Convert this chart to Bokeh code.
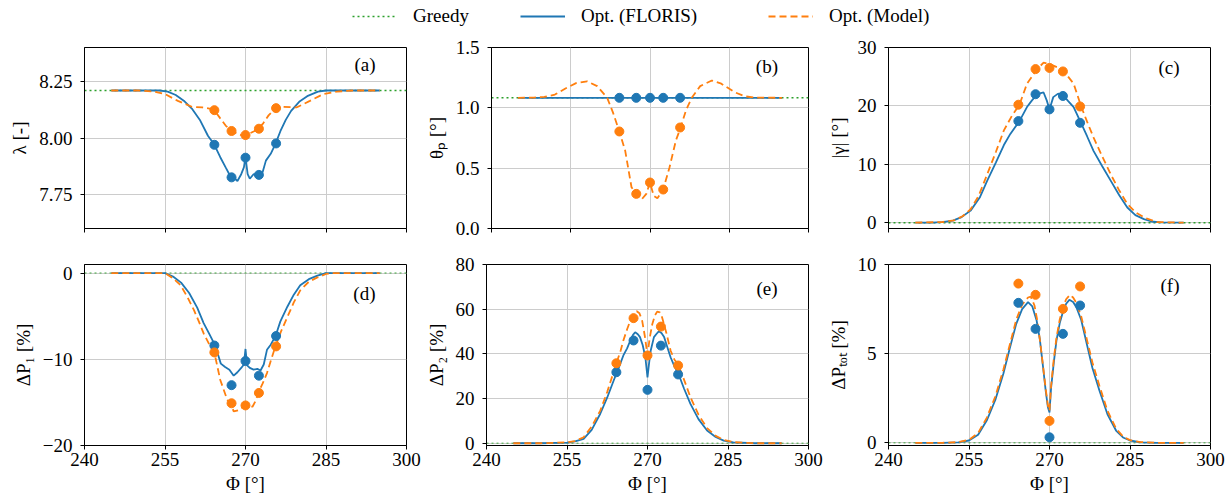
from bokeh.plotting import figure
from bokeh.models import Span, Label, Legend, LegendItem, FixedTicker, Range1d
from bokeh.layouts import column, row
from bokeh.core.properties import value
from bokeh.embed import file_html
from bokeh.resources import INLINE

# ---------------- data ----------------
PHI_TICKS = [240, 255, 270, 285, 300]
PHI_TICK_LABELS = ["240", "255", "270", "285", "300"]
PHI_PTS = [264.2, 267.4, 270.0, 272.5, 275.7]
LEGEND_LABELS = ["Greedy", "Opt. (FLORIS)", "Opt. (Model)"]
PANEL_TAGS = ["(a)", "(b)", "(c)", "(d)", "(e)", "(f)"]
Y_LABELS = ["λ [-]", "θₚ [°]", "|γ| [°]", "ΔP₁ [%]", "ΔP₂ [%]", "ΔPₜₒₜ [%]"]
X_LABEL = "Φ [°]"
GREEDY_VALUES = [8.21, 1.083, 0.0, 0.0, 0.0, 0.0]

Y_LIMITS = [(7.6, 8.4), (0.0, 1.5), (-1.0, 30.0), (-20.0, 1.0), (-1.0, 80.0), (-0.15, 10.0)]
Y_TICKS = [[7.75, 8.0, 8.25], [0.0, 0.5, 1.0, 1.5], [0, 10, 20, 30],
           [-20, -10, 0], [0, 20, 40, 60, 80], [0, 5, 10]]
Y_TICK_LABELS = [["7.75", "8.00", "8.25"], ["0.0", "0.5", "1.0", "1.5"], ["0", "10", "20", "30"],
                 ["−20", "−10", "0"], ["0", "20", "40", "60", "80"], ["0", "5", "10"]]

# (a) lambda
A_FL_PHI = [245, 250, 254, 255.5, 257, 258.5, 260, 261.5, 263, 264.2, 265.3, 266.3, 267.2, 267.8, 268.5,
            269.2, 269.7, 270, 270.4, 270.8, 271.5, 272.4, 273.2, 273.8, 274.7, 275.6, 276.5, 277.5, 278.5,
            280, 281.5, 283.5, 285, 290, 295]
A_FL = [8.21, 8.21, 8.21, 8.205, 8.19, 8.165, 8.13, 8.08, 8.01, 7.97, 7.915, 7.87, 7.83, 7.825, 7.81,
        7.84, 7.87, 7.915, 7.84, 7.82, 7.84, 7.835, 7.85, 7.90, 7.93, 7.975, 8.03, 8.08, 8.12,
        8.16, 8.185, 8.205, 8.21, 8.21, 8.21]
A_MO_PHI = [245, 250, 253, 255, 257.4, 260, 262, 263.3, 264.2, 265.2, 266.3, 267.4, 268.5, 269.3, 270,
            270.8, 271.6, 272.4, 273.3, 274.3, 275.6, 277, 279.5, 282, 284.5, 287, 290, 295]
A_MO = [8.21, 8.21, 8.205, 8.194, 8.164, 8.138, 8.135, 8.13, 8.123, 8.09, 8.055, 8.031, 8.018, 8.012, 8.013,
        8.02, 8.03, 8.041, 8.065, 8.10, 8.132, 8.138, 8.135, 8.164, 8.194, 8.205, 8.21, 8.21]
A_FL_PTS = [7.970, 7.826, 7.913, 7.837, 7.976]
A_MO_PTS = [8.123, 8.031, 8.013, 8.041, 8.132]

# (b) theta_p
B_FL_PHI = [245, 295]
B_FL = [1.083, 1.083]
B_MO_PHI = [245, 248, 250, 252, 254, 256, 258.1, 260, 261.9, 263, 264.2, 265.3, 266.5, 267.4, 268.4, 269.3,
            270, 270.7, 271.4, 272.5, 273.7, 274.9, 275.8, 276.8, 277.9, 279.5, 281.7, 283.5, 286, 288, 290, 295]
B_MO = [1.083, 1.085, 1.09, 1.11, 1.16, 1.205, 1.22, 1.18, 1.083, 0.96, 0.804, 0.646, 0.342, 0.287, 0.24, 0.287,
        0.381, 0.27, 0.25, 0.323, 0.508, 0.729, 0.837, 0.978, 1.083, 1.18, 1.226, 1.2, 1.13, 1.095, 1.085, 1.083]
B_FL_PTS = [1.083, 1.083, 1.083, 1.083, 1.083]
B_MO_PTS = [0.804, 0.287, 0.381, 0.323, 0.837]

# (c) |gamma|
C_FL_PHI = [245, 248, 250, 252, 253.5, 255.3, 257, 258.4, 260, 261.5, 262.7, 264.4, 265.8, 266.7, 267.7, 268.9,
            269.5, 270, 270.7, 271.6, 272.7, 273.4, 274.5, 275.8, 277, 278.2, 279.8, 281.4, 283, 284.5, 286,
            287.6, 289, 290.7, 295]
C_FL = [0, 0.02, 0.08, 0.34, 0.9, 2.06, 4.3, 7.2, 10.3, 13.3, 15.2, 17.4, 19.8, 20.9, 22.0, 22.3,
        20.9, 19.4, 21.5, 22.1, 21.7, 20.9, 19.8, 17.2, 14.8, 12.3, 9.7, 7.2, 4.7, 2.6, 1.3,
        0.6, 0.2, 0.05, 0]
C_MO_PHI = [245, 250, 252.2, 253.8, 255.3, 256.8, 258.4, 260, 261.5, 263, 264.4, 265.8, 267.7, 268.9, 270.2,
            271.5, 272.7, 274.5, 275.9, 277, 278.2, 279.8, 281.4, 283, 284.5, 286, 287.6, 290, 295]
C_MO = [0, 0.1, 0.4, 1.1, 2.3, 4.6, 8.3, 12.1, 15.8, 18.3, 20.2, 23.8, 26.3, 27.4, 27.1,
        26.6, 25.9, 23.8, 19.9, 17.3, 14.6, 11.4, 8.3, 5.5, 3.2, 1.8, 0.9, 0.1, 0]
C_FL_PTS = [17.4, 22.0, 19.4, 21.7, 17.1]
C_MO_PTS = [20.2, 26.3, 26.5, 25.9, 19.9]

# (d) Delta P1
D_FL_PHI = [245, 250, 255, 256.5, 258, 259.5, 261, 262.2, 263.2, 264.1, 264.8, 265.4, 266.2, 267, 267.8,
            268.5, 269.2, 269.7, 270, 270.3, 270.8, 271.5, 272.2, 272.8, 273.4, 274, 274.7, 275.6, 276.5,
            277.8, 279, 280.2, 281.8, 283.4, 285, 290, 295]
D_FL = [0, 0, 0, -0.4, -1.1, -2.3, -4.0, -5.8, -7.0, -8.1, -9.3, -10.5, -10.9, -11.2, -11.9,
        -11.5, -11.0, -10.6, -8.8, -10.7, -11.0, -11.2, -11.1, -11.3, -10.6, -8.9, -8.3, -7.3, -5.6,
        -3.9, -2.5, -1.4, -0.7, -0.3, 0, 0, 0]
D_MO_PHI = [245, 250, 255, 256.5, 257.9, 259.2, 260.4, 261.3, 262.2, 263.2, 264.2, 265.3, 266.6, 267.3,
            267.8, 268.7, 269.4, 270, 270.6, 271.3, 271.9, 272.4, 273.2, 274, 274.8, 275.6, 276.6, 277.8,
            279, 280.2, 281.8, 283.4, 285, 286, 290, 295]
D_MO = [0, 0, 0, -0.6, -1.4, -2.8, -4.3, -5.6, -7.0, -8.2, -9.24, -12.4, -14.7, -15.2,
        -16.05, -15.9, -15.6, -15.35, -15.5, -15.5, -14.8, -13.86, -12.8, -11.6, -10.0, -8.46, -6.8, -5.1,
        -3.4, -2.0, -1.0, -0.5, -0.1, 0, 0, 0]
D_FL_PTS = [-8.4, -13.0, -10.2, -11.9, -7.3]
D_MO_PTS = [-9.2, -15.1, -15.35, -13.9, -8.5]

# (e) Delta P2
E_FL_PHI = [245, 250, 255, 256.5, 258.1, 259.6, 261.2, 262.5, 263.7, 264.6, 265.5, 266.2, 266.8, 267.3,
            267.7, 268.2, 268.6, 269.1, 269.6, 270, 270.3, 270.6, 271.2, 271.7, 272.1, 272.6, 273.1, 273.7,
            274.3, 275, 275.8, 276.8, 278, 279.5, 281.1, 282.7, 284.2, 286, 290, 295]
E_FL = [0, 0, 0.3, 0.8, 2.0, 6.0, 13.2, 20.5, 28.1, 33.5, 39.3, 42.5, 46.0, 48.5,
        49.7, 48.8, 47.5, 44.0, 38.5, 29.5, 36.0, 41.5, 47.5, 49.0, 50.1, 49.3, 47.5, 43.0,
        38.5, 34.5, 30.9, 24.5, 17.6, 10.8, 5.7, 2.8, 1.2, 0.4, 0, 0]
E_MO_PHI = [245, 250, 255, 256.5, 258.1, 259.6, 261.2, 262.5, 263.5, 264.2, 265, 265.5, 266.2, 266.8,
            267.4, 268, 268.5, 269, 269.5, 270, 270.4, 270.9, 271.4, 271.8, 272.3, 272.7, 273.5, 274.3,
            275, 275.8, 276.8, 278, 279.5, 281.1, 282.7, 284.2, 286, 290, 295]
E_MO = [0, 0, 0.4, 1.0, 2.7, 7.5, 14.6, 23.0, 30.5, 35.8, 41.5, 46.0, 51.0, 54.9,
        57.8, 59.1, 58.2, 54.9, 48.0, 39.3, 47.0, 53.4, 57.3, 58.9, 58.6, 56.5, 49.5, 41.5,
        37.5, 34.8, 28.5, 20.6, 12.8, 6.8, 3.3, 1.5, 0.5, 0, 0]
E_FL_PTS = [31.8, 46.0, 23.9, 43.7, 30.8]
E_MO_PTS = [35.8, 56.0, 39.3, 52.2, 34.8]

# (f) Delta P_TOT
F_FL_PHI = [245, 250, 253, 255, 256.7, 258.3, 259.9, 261.4, 262.6, 263.8, 264.9, 266, 266.8, 267.6, 268.2,
            268.8, 269.3, 269.7, 270, 270.3, 270.8, 271.3, 271.9, 272.5, 273.1, 273.7, 274.4, 275, 275.9,
            276.8, 278, 279.3, 280.8, 282.4, 283.7, 285, 287, 290, 295]
F_FL = [0, 0, 0.03, 0.13, 0.45, 1.25, 2.4, 3.87, 5.3, 6.67, 7.5, 7.89, 7.65, 6.86, 5.8,
        4.24, 2.9, 2.0, 1.7, 3.1, 4.5, 5.74, 6.7, 7.33, 7.8, 8.02, 7.9, 7.6, 6.9,
        5.74, 4.2, 2.93, 1.6, 0.69, 0.3, 0.13, 0.03, 0, 0]
F_MO_PHI = [245, 250, 253, 255, 256.7, 258.3, 259.9, 261.4, 262.6, 263.8, 264.9, 266, 266.5, 267.2, 267.7,
            268.2, 268.8, 269.3, 269.7, 270, 270.3, 270.8, 271.3, 271.9, 272.5, 273.1, 273.8, 274.4, 275,
            275.9, 276.8, 278, 279.3, 280.8, 282.4, 283.7, 285, 287, 290, 295]
F_MO = [0, 0, 0.04, 0.17, 0.55, 1.4, 2.6, 4.1, 5.5, 6.9, 7.75, 8.15, 8.2, 7.7, 6.9,
        5.8, 4.3, 3.0, 2.1, 1.8, 3.2, 4.7, 5.9, 6.9, 7.6, 8.05, 8.3, 8.15, 7.85,
        7.1, 6.0, 4.5, 3.2, 1.8, 0.8, 0.35, 0.15, 0.04, 0, 0]
F_FL_PTS = [7.85, 6.39, 0.31, 6.11, 7.70]
F_MO_PTS = [8.93, 8.30, 1.23, 7.51, 8.77]

FL_LINES = [(A_FL_PHI, A_FL), (B_FL_PHI, B_FL), (C_FL_PHI, C_FL), (D_FL_PHI, D_FL), (E_FL_PHI, E_FL), (F_FL_PHI, F_FL)]
MO_LINES = [(A_MO_PHI, A_MO), (B_MO_PHI, B_MO), (C_MO_PHI, C_MO), (D_MO_PHI, D_MO), (E_MO_PHI, E_MO), (F_MO_PHI, F_MO)]
FL_POINTS = [A_FL_PTS, B_FL_PTS, C_FL_PTS, D_FL_PTS, E_FL_PTS, F_FL_PTS]
MO_POINTS = [A_MO_PTS, B_MO_PTS, C_MO_PTS, D_MO_PTS, E_MO_PTS, F_MO_PTS]

# ---------------- style ----------------
BLUE, ORANGE, GREEN = "#1f77b4", "#ff7f0e", "#2ca02c"
FONT = "Liberation Serif"
FS = "19px"
GRID = "#cccccc"
DASH_GREEDY = "2 3"
DASH_MODEL = "7 4"
LW = 1.8
FRAME_W, FRAME_H = 322, 181
BORDER_L = [84, 64, 64]
BORDER_R = [16, 16, 22]
BORDER_T = [15, 14]
BORDER_B = [22, 56]
TAG_DY = [17, 19, 20, 29, 24, 21]
TAG_DX = 31


def make_panel(i):
    col, rw = i % 3, i // 3
    ylo, yhi = Y_LIMITS[i]
    p = figure(width=BORDER_L[col] + FRAME_W + BORDER_R[col],
               height=BORDER_T[rw] + FRAME_H + BORDER_B[rw],
               output_backend="svg", toolbar_location=None,
               x_range=Range1d(PHI_TICKS[0], PHI_TICKS[-1]), y_range=Range1d(ylo, yhi),
               min_border_left=BORDER_L[col], min_border_right=BORDER_R[col],
               min_border_top=BORDER_T[rw], min_border_bottom=BORDER_B[rw])
    p.background_fill_color = "white"
    p.border_fill_color = "white"
    p.outline_line_color = "black"
    p.outline_line_width = 1

    p.xaxis.ticker = FixedTicker(ticks=PHI_TICKS)
    p.yaxis.ticker = FixedTicker(ticks=Y_TICKS[i])
    p.xgrid.ticker = FixedTicker(ticks=PHI_TICKS)
    p.ygrid.ticker = FixedTicker(ticks=Y_TICKS[i])
    p.grid.grid_line_color = GRID
    p.grid.grid_line_width = 1

    p.yaxis.major_label_overrides = dict(zip(Y_TICKS[i], Y_TICK_LABELS[i]))
    if rw == 0:
        p.xaxis.major_label_overrides = {t: "" for t in PHI_TICKS}
        p.xaxis.major_label_text_font_size = "0px"
    else:
        p.xaxis.major_label_overrides = dict(zip(PHI_TICKS, PHI_TICK_LABELS))
        p.xaxis.major_label_text_font_size = FS
        p.xaxis.axis_label = X_LABEL
    p.yaxis.axis_label = Y_LABELS[i]
    p.yaxis.major_label_text_font_size = FS
    for ax in (p.xaxis, p.yaxis):
        ax.major_label_text_font = FONT
        ax.axis_label_text_font = FONT
        ax.axis_label_text_font_size = FS
        ax.axis_label_text_font_style = "normal"
        ax.axis_label_text_color = "black"
        ax.major_label_text_color = "black"
        ax.major_tick_out = 4
        ax.major_tick_in = 0
        ax.minor_tick_line_color = None
        ax.axis_line_color = "black"
        ax.major_tick_line_color = "black"
    p.xaxis.major_label_standoff = 3
    p.xaxis.axis_label_standoff = 4
    p.yaxis.major_label_standoff = 8
    p.yaxis.axis_label_standoff = 6

    p.add_layout(Span(location=GREEDY_VALUES[i], dimension="width", line_color=GREEN,
                      line_dash=DASH_GREEDY, line_width=1.5, line_alpha=1.0 if rw == 0 else 0.6,
                      level="underlay"))
    fx, fy = FL_LINES[i]
    mx, my = MO_LINES[i]
    p.line(fx, fy, line_color=BLUE, line_width=LW)
    p.line(mx, my, line_color=ORANGE, line_width=LW, line_dash=DASH_MODEL)
    p.scatter(PHI_PTS, FL_POINTS[i], size=9, fill_color=BLUE, line_color=BLUE)
    p.scatter(PHI_PTS, MO_POINTS[i], size=9, fill_color=ORANGE, line_color=ORANGE)

    xr = PHI_TICKS[-1] - TAG_DX * (PHI_TICKS[-1] - PHI_TICKS[0]) / FRAME_W
    yt = yhi - TAG_DY[i] * (yhi - ylo) / FRAME_H
    p.add_layout(Label(x=xr, y=yt, text=PANEL_TAGS[i], text_align="right", text_baseline="middle",
                       text_font=FONT, text_font_size=FS, text_color="black"))
    return p


panels = [make_panel(i) for i in range(6)]

# legend strip (its renderers hold panel (a) data, which lies outside this strip's 0..1 ranges)
leg = figure(width=1232, height=32, output_backend="svg", toolbar_location=None,
             x_range=Range1d(0, 1), y_range=Range1d(0, 1),
             x_axis_location=None, y_axis_location=None, min_border=0)
leg.grid.visible = False
leg.outline_line_color = None
r_g = leg.line(A_FL_PHI, A_FL, line_color=GREEN, line_dash=DASH_GREEDY, line_width=1.5)
r_f = leg.line(A_FL_PHI, A_FL, line_color=BLUE, line_width=LW)
r_m = leg.line(A_MO_PHI, A_MO, line_color=ORANGE, line_dash=DASH_MODEL, line_width=LW)
for lab, r, x in zip(LEGEND_LABELS, [r_g, r_f, r_m], [352, 520, 768]):
    lg = Legend(items=[LegendItem(label=value(lab), renderers=[r])], location=(x, 5),
                orientation="horizontal", glyph_width=45, glyph_height=20, label_height=20,
                label_standoff=16, padding=0, margin=0, border_line_color=None,
                background_fill_alpha=0, label_text_font=FONT, label_text_font_size=FS,
                label_text_color="black")
    leg.add_layout(lg, "center")

layout = column(leg, row(*panels[:3]), row(*panels[3:]))
open("out.html", "w").write(file_html(layout, INLINE))
